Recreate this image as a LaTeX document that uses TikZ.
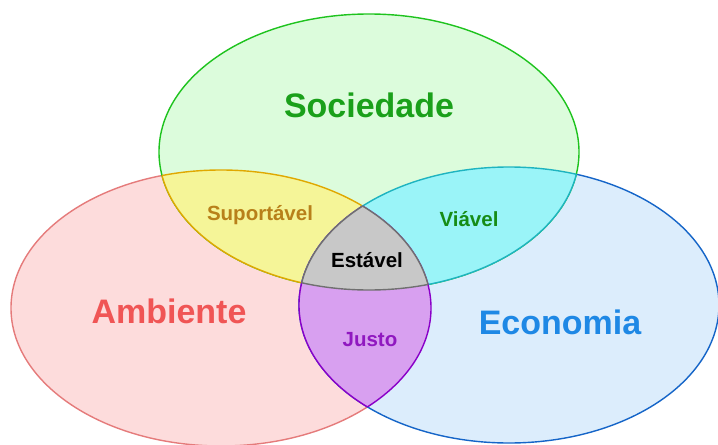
\documentclass[tikz,border=0pt]{standalone}
\usepackage{fontspec}
\setmainfont{Liberation Sans}

\definecolor{socfill}{HTML}{DCFCDC}
\definecolor{socline}{HTML}{1EC31E}
\definecolor{soctext}{HTML}{1AA01A}
\definecolor{ambfill}{HTML}{FDDCDC}
\definecolor{ambline}{HTML}{E57B7B}
\definecolor{ambtext}{HTML}{F05555}
\definecolor{ecofill}{HTML}{DCEDFC}
\definecolor{ecoline}{HTML}{1565C8}
\definecolor{ecotext}{HTML}{1E88E5}
\definecolor{supfill}{HTML}{F5F598}
\definecolor{supline}{HTML}{E0A800}
\definecolor{suptext}{HTML}{B8801A}
\definecolor{viafill}{HTML}{9AF4F8}
\definecolor{vialine}{HTML}{1EB4C0}
\definecolor{viatext}{HTML}{168C16}
\definecolor{jusfill}{HTML}{D8A0F0}
\definecolor{jusline}{HTML}{8A00C8}
\definecolor{justext}{HTML}{9018C0}
\definecolor{estfill}{HTML}{C8C8C8}
\definecolor{estline}{HTML}{707070}

\begin{document}
\begin{tikzpicture}[x=0.03cm,y=-0.03cm]

\def\rx{6.3cm}
\def\ry{4.14cm}
\def\soc{(369,152) ellipse [x radius=\rx, y radius=\ry]}
\def\amb{(221,308) ellipse [x radius=\rx, y radius=\ry]}
\def\eco{(509,305) ellipse [x radius=\rx, y radius=\ry]}

\tikzstyle{rim}=[line width=1.2pt]
\tikzstyle{biglabel}=[font=\fontsize{29}{29}\selectfont\bfseries]
\tikzstyle{smalllabel}=[font=\fontsize{17.5}{18}\selectfont\bfseries]

\useasboundingbox (0,0) rectangle (718,445);

%sets
\filldraw[rim,fill=ambfill,draw=ambline] \amb;
\filldraw[rim,fill=ecofill,draw=ecoline] \eco;
\filldraw[rim,fill=socfill,draw=socline] \soc;

%suportavel
\begin{scope}
\clip \soc;
\filldraw[rim,fill=supfill,draw=supline] \amb;
\end{scope}
\begin{scope}
\clip \amb;
\draw[rim,supline] \soc;
\end{scope}

%viavel
\begin{scope}
\clip \soc;
\filldraw[rim,fill=viafill,draw=vialine] \eco;
\end{scope}
\begin{scope}
\clip \eco;
\draw[rim,vialine] \soc;
\end{scope}

%justo
\begin{scope}
\clip \amb;
\filldraw[rim,fill=jusfill,draw=jusline] \eco;
\end{scope}
\begin{scope}
\clip \eco;
\draw[rim,jusline] \amb;
\end{scope}

%estavel
\begin{scope}
\clip \soc;
\clip \amb;
\filldraw[rim,fill=estfill,draw=estline] \eco;
\end{scope}
\begin{scope}
\clip \soc;
\clip \eco;
\draw[rim,estline] \amb;
\end{scope}
\begin{scope}
\clip \amb;
\clip \eco;
\draw[rim,estline] \soc;
\end{scope}

%labels
\node[biglabel,text=soctext] (sociedade) at (369,105) {Sociedade};
\node[biglabel,text=ambtext] (ambiente) at (169,311) {Ambiente};
\node[biglabel,text=ecotext] (economia) at (560,322) {Economia};
\node[smalllabel,text=suptext] (suportavel) at (260,215) {Suportável};
\node[smalllabel,text=viatext] (viavel) at (469,219) {Viável};
\node[smalllabel,text=black] (estavel) at (367,260) {Estável};
\node[smalllabel,text=justext] (justo) at (370,340) {Justo};

\end{tikzpicture}
\end{document}
